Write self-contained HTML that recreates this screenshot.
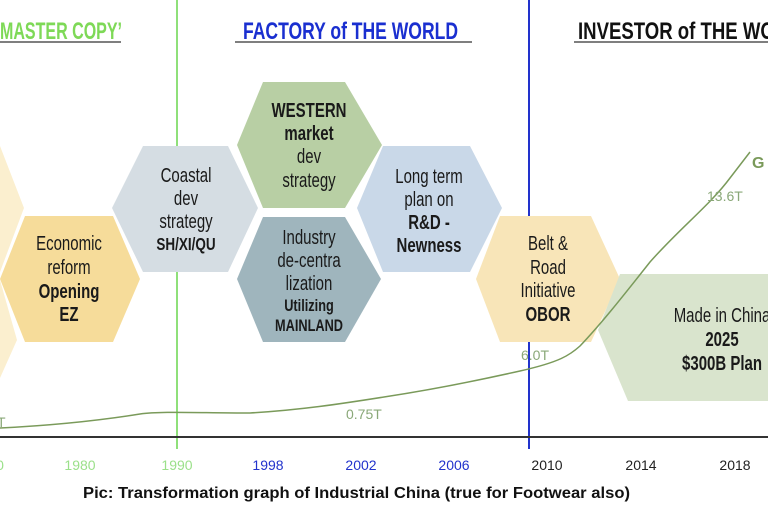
<!DOCTYPE html>
<html><head><meta charset="utf-8"><style>
html,body{margin:0;padding:0;background:#fff;}
svg{display:block;}
.h{font-family:"Liberation Sans",sans-serif;font-size:20px;fill:#1a1a1a;text-anchor:middle;}
.b{font-weight:bold;}
.t{font-family:"Liberation Sans",sans-serif;font-size:24px;font-weight:bold;}
.y{font-family:"Liberation Sans",sans-serif;font-size:14px;text-anchor:middle;}
</style></head><body>
<svg width="768" height="512" viewBox="0 0 768 512" xmlns="http://www.w3.org/2000/svg">
<rect width="768" height="512" fill="#fff"/>
<line x1="177" y1="0" x2="177" y2="449" stroke="#8fe07a" stroke-width="2"/>
<line x1="529" y1="0" x2="529" y2="449" stroke="#2233cc" stroke-width="2"/>
<text x="0" y="39" class="t" fill="#7ed957" textLength="122" lengthAdjust="spacingAndGlyphs">MASTER COPY’</text>
<line x1="0" y1="42" x2="121" y2="42" stroke="#555" stroke-width="1.5"/>
<text x="243" y="39" class="t" fill="#1a2fd0" textLength="215" lengthAdjust="spacingAndGlyphs">FACTORY of THE WORLD</text>
<line x1="235" y1="42" x2="472" y2="42" stroke="#555" stroke-width="1.5"/>
<text x="578" y="39" class="t" fill="#111" textLength="235" lengthAdjust="spacingAndGlyphs">INVESTOR of THE WORLD</text>
<line x1="574" y1="42" x2="768" y2="42" stroke="#555" stroke-width="1.5"/>
<polygon points="-60,146 0,146 24,208 0,272 -60,272" fill="#fbefcf"/>
<polygon points="-60,280 0,280 17,340 0,378 -60,378" fill="#fbefcf"/>
<polygon points="0,279 25,216 113,216 140,279 113,342 25,342" fill="#f6dc9a"/>
<g transform="translate(69 0) scale(0.75 1)">
<text class="h" x="0" y="250">Economic</text>
<text class="h" x="0" y="274">reform</text>
<text class="h b" x="0" y="298">Opening</text>
<text class="h b" x="0" y="321">EZ</text></g>
<polygon points="112,208 143,146 228,146 258,208 228,272 143,272" fill="#d5dde3"/>
<g transform="translate(186 0) scale(0.75 1)">
<text class="h" x="0" y="182">Coastal</text>
<text class="h" x="0" y="205">dev</text>
<text class="h" x="0" y="228">strategy</text>
<text class="h b" x="0" y="250" style="font-size:18px">SH/XI/QU</text></g>
<polygon points="237,145 263,82 345,82 382,145 345,208 263,208" fill="#b8cfa4"/>
<g transform="translate(309 0) scale(0.75 1)">
<text class="h b" x="0" y="117">WESTERN</text>
<text class="h b" x="0" y="140">market</text>
<text class="h" x="0" y="163">dev</text>
<text class="h" x="0" y="187">strategy</text></g>
<polygon points="237,279 263,217 345,217 381,279 345,342 263,342" fill="#9fb5bd"/>
<g transform="translate(309 0) scale(0.75 1)">
<text class="h" x="0" y="244">Industry</text>
<text class="h" x="0" y="267">de-centra</text>
<text class="h" x="0" y="290">lization</text>
<text class="h b" x="0" y="311" style="font-size:17px">Utilizing</text>
<text class="h b" x="0" y="331" style="font-size:17px">MAINLAND</text></g>
<polygon points="357,208 383,146 470,146 502,208 470,272 383,272" fill="#c9d8e8"/>
<g transform="translate(429 0) scale(0.75 1)">
<text class="h" x="0" y="183">Long term</text>
<text class="h" x="0" y="206">plan on</text>
<text class="h b" x="0" y="229">R&amp;D -</text>
<text class="h b" x="0" y="252">Newness</text></g>
<polygon points="476,279 500,216 591,216 620,279 591,342 500,342" fill="#f8e5b8"/>
<g transform="translate(548 0) scale(0.75 1)">
<text class="h" x="0" y="250">Belt &amp;</text>
<text class="h" x="0" y="274">Road</text>
<text class="h" x="0" y="297">Initiative</text>
<text class="h b" x="0" y="321">OBOR</text></g>
<polygon points="598,330 620,274 800,274 800,401 628,401" fill="#d9e4cd"/>
<g transform="translate(722 0) scale(0.75 1)">
<text class="h" x="0" y="322">Made in China</text>
<text class="h b" x="0" y="346">2025</text>
<text class="h b" x="0" y="370">$300B Plan</text></g>
<line x1="0" y1="437" x2="768" y2="437" stroke="#333" stroke-width="2"/>
<path d="M0,428 C40,426 90,422 140,414 C160,411 200,413 250,413 C300,410 340,404 384,397 C430,390 480,380 520,371 C560,362 570,355 580,346 C600,325 620,300 650,262 C680,228 710,205 730,178 L750,152" fill="none" stroke="#7a9a5a" stroke-width="1.5"/>
<text x="752" y="168" fill="#7a9a5a" font-family="Liberation Sans,sans-serif" font-weight="bold" font-size="16">G</text>
<g font-family="Liberation Sans,sans-serif" font-size="14" fill="#8aa878">
<text x="707" y="201">13.6T</text>
<text x="521" y="360">6.0T</text>
<text x="346" y="419">0.75T</text>
<text x="-3" y="427">T</text>
</g>
<text class="y" x="0" y="470" fill="#9be08a">0</text>
<text class="y" x="80" y="470" fill="#9be08a">1980</text>
<text class="y" x="177" y="470" fill="#9be08a">1990</text>
<text class="y" x="268" y="470" fill="#2233cc">1998</text>
<text class="y" x="361" y="470" fill="#2233cc">2002</text>
<text class="y" x="454" y="470" fill="#2233cc">2006</text>
<text class="y" x="547" y="470" fill="#222">2010</text>
<text class="y" x="641" y="470" fill="#222">2014</text>
<text class="y" x="735" y="470" fill="#222">2018</text>
<text x="83" y="498" font-family="Liberation Sans,sans-serif" font-weight="bold" font-size="16" fill="#111" textLength="547" lengthAdjust="spacingAndGlyphs">Pic: Transformation graph of Industrial China (true for Footwear also)</text>
</svg>
</body></html>
